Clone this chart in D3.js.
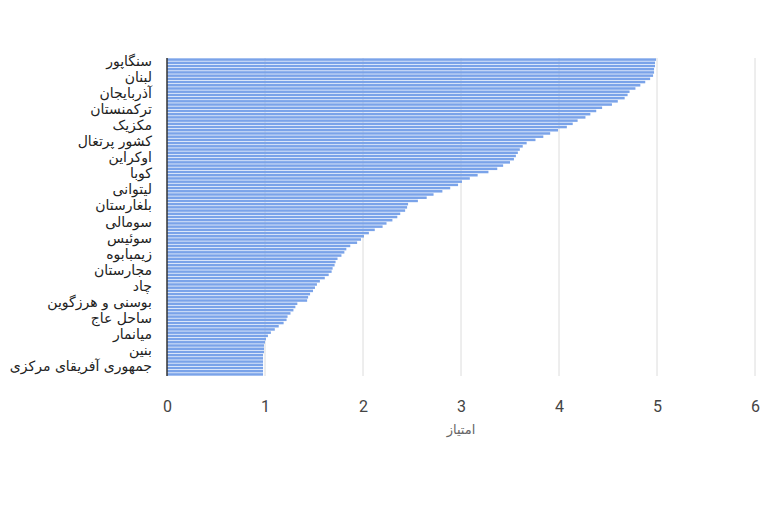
<!DOCTYPE html>
<html>
<head>
<meta charset="utf-8">
<script src="https://cdn.jsdelivr.net/npm/d3@7"></script>
<style>
  html, body { margin: 0; padding: 0; background: #fff; }
  svg { display: block; }
</style>
</head>
<body>
<svg id="chart" width="768" height="512"></svg>
<script>
const countries = [
  "سنگاپور","نروژ","دانمارک","فنلاند","ایسلند",
  "لبنان","قطر","امارات متحده عربی","نیوزیلند","استرالیا",
  "آذربایجان","قزاقستان","ازبکستان","تاجیکستان","قرقیزستان",
  "ترکمنستان","ارمنستان","گرجستان","مغولستان","ویتنام",
  "مکزیک","شیلی","آرژانتین","برزیل","کلمبیا",
  "کشور پرتغال","اسپانیا","ایتالیا","یونان","مالت",
  "اوکراین","بلاروس","مولداوی","رومانی","جامائیکا",
  "کوبا","هائیتی","پاناما","کاستاریکا","لتونی",
  "لیتوانی","استونی","لهستان","اسلواکی","صربستان",
  "بلغارستان","مقدونیه شمالی","آلبانی","کنیا","اتیوپی",
  "سومالی","جیبوتی","اریتره","اتریش","بلژیک",
  "سوئیس","هلند","لوکزامبورگ","زامبیا","موزامبیک",
  "زیمبابوه","بوتسوانا","نامیبیا","چک","اسلوونی",
  "مجارستان","کرواسی","نیجر","مالی","سودان",
  "چاد","کامرون","گابن","مونته‌نگرو","کوزوو",
  "بوسنی و هرزگوین","غنا","گینه","لیبریا","سیرالئون",
  "ساحل عاج","سنگال","تایلند","لائوس","کامبوج",
  "میانمار","بنگلادش","نپال","توگو","بورکینافاسو",
  "بنین","نیجریه","کنگو","رواندا","بروندی",
  "جمهوری آفریقای مرکزی","سودان جنوبی","آنگولا","مالاوی"
];
const scores = [
  4.99, 4.98, 4.98, 4.97, 4.97,
  4.96, 4.93, 4.88, 4.83, 4.78,
  4.72, 4.70, 4.67, 4.60, 4.54,
  4.44, 4.38, 4.32, 4.27, 4.19,
  4.14, 4.08, 3.99, 3.91, 3.84,
  3.76, 3.67, 3.63, 3.60, 3.58,
  3.56, 3.54, 3.50, 3.43, 3.37,
  3.28, 3.17, 3.09, 3.01, 2.97,
  2.89, 2.81, 2.72, 2.65, 2.56,
  2.46, 2.45, 2.43, 2.38, 2.35,
  2.30, 2.24, 2.20, 2.12, 2.06,
  2.01, 1.98, 1.94, 1.87, 1.83,
  1.81, 1.78, 1.74, 1.72, 1.71,
  1.69, 1.68, 1.65, 1.61, 1.56,
  1.53, 1.51, 1.49, 1.46, 1.44,
  1.43, 1.33, 1.31, 1.29, 1.26,
  1.23, 1.22, 1.19, 1.14, 1.10,
  1.06, 1.03, 1.01, 1.00, 0.99,
  0.99, 0.99, 0.98, 0.98, 0.98,
  0.98, 0.98, 0.98, 0.98
];
const xTicks = [0, 1, 2, 3, 4, 5, 6];
const xTitle = "امتیاز";
const labelEvery = 5;

const W = 768, H = 512;
const margin = { top: 58, right: 13, bottom: 136, left: 167 };
const iw = W - margin.left - margin.right;
const ih = H - margin.top - margin.bottom;

const svg = d3.select("#chart");
const g = svg.append("g").attr("transform", `translate(${margin.left},${margin.top})`);

const x = d3.scaleLinear().domain([0, 6]).range([0, iw]);
const y = d3.scaleBand().domain(countries).range([0, ih]).paddingInner(0.22).paddingOuter(0.1);

// gridlines
g.selectAll("line.grid").data(xTicks.filter(t => t !== 0)).join("line")
  .attr("class", "grid")
  .attr("x1", d => x(d)).attr("x2", d => x(d))
  .attr("y1", 0).attr("y2", ih)
  .attr("stroke", "#dcdcdc").attr("stroke-width", 1);

// bars
g.selectAll("rect.bar").data(countries).join("rect")
  .attr("class", "bar")
  .attr("x", x(0))
  .attr("y", d => y(d))
  .attr("width", (d, i) => x(scores[i]) - x(0))
  .attr("height", y.bandwidth())
  .attr("fill", "#7aa3e9");

// baseline
g.append("line")
  .attr("x1", x(0)).attr("x2", x(0))
  .attr("y1", 0).attr("y2", ih)
  .attr("stroke", "#333").attr("stroke-width", 1.5);

// x axis
const xAxis = d3.axisBottom(x).tickValues(xTicks).tickSize(0).tickPadding(0).tickFormat(d3.format("d"));
const xg = g.append("g").attr("transform", `translate(0,${ih})`).call(xAxis);
xg.select(".domain").remove();
xg.selectAll("text")
  .attr("y", 36)
  .attr("dy", 0)
  .attr("font-family", "Roboto, 'Liberation Sans', Arial, sans-serif")
  .attr("font-size", 16)
  .attr("fill", "#444");

// y axis
const yAxis = d3.axisLeft(y)
  .tickValues(countries.filter((d, i) => i % labelEvery === 0))
  .tickSize(0).tickPadding(15);
const yg = g.append("g").call(yAxis);
yg.select(".domain").remove();
yg.selectAll("text")
  .attr("font-family", "'DejaVu Sans', 'Liberation Sans', Arial, sans-serif")
  .attr("font-size", 14)
  .attr("fill", "#222")
  .attr("dy", "0.45em");

// x title
g.append("text")
  .attr("x", iw / 2)
  .attr("y", ih + 58)
  .attr("text-anchor", "middle")
  .attr("font-family", "'DejaVu Sans', 'Liberation Sans', Arial, sans-serif")
  .attr("font-size", 13)
  .attr("fill", "#666")
  .text(xTitle);
</script>
</body>
</html>
